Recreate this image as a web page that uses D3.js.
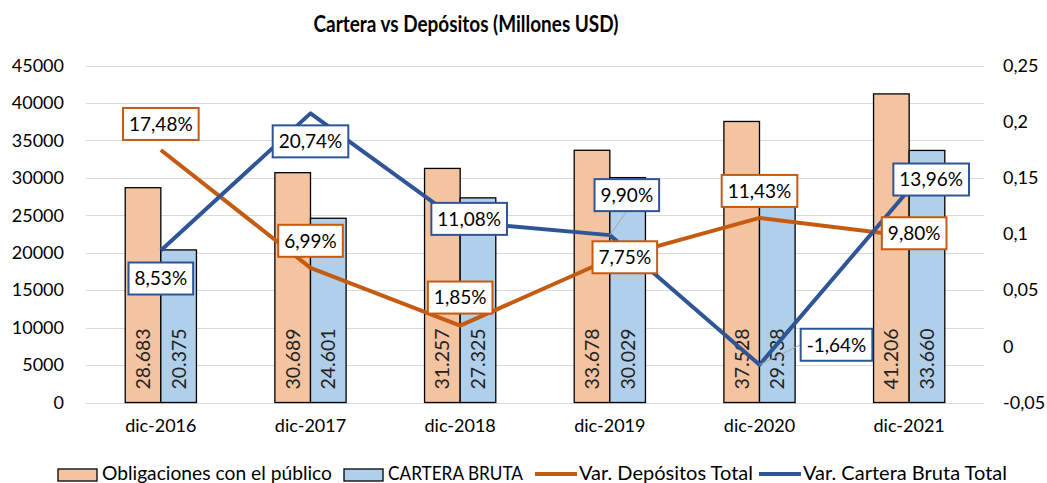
<!DOCTYPE html>
<html>
<head>
<meta charset="utf-8">
<script src="https://cdn.jsdelivr.net/npm/d3@7"></script>
<style>
  html, body { margin: 0; padding: 0; background: #fff; }
  svg { display: block; font-family: Lato, "Open Sans", sans-serif; }
</style>
</head>
<body>
<svg id="chart" width="1047" height="483"></svg>
<script>
// ---- data ----
const categories = ["dic-2016", "dic-2017", "dic-2018", "dic-2019", "dic-2020", "dic-2021"];
const obligaciones = [28683, 30689, 31257, 33678, 37528, 41206];
const carteraBruta = [20375, 24601, 27325, 30029, 29538, 33660];
const varDepositos = [0.1748, 0.0699, 0.0185, 0.0775, 0.1143, 0.0980];
const varCartera = [0.0853, 0.2074, 0.1108, 0.0990, -0.0164, 0.1396];
const leftTicks = [0, 5000, 10000, 15000, 20000, 25000, 30000, 35000, 40000, 45000];
const rightTicks = [-0.05, 0, 0.05, 0.1, 0.15, 0.2, 0.25];
const seriesNames = ["Obligaciones con el público", "CARTERA BRUTA", "Var. Depósitos Total", "Var. Cartera Bruta Total"];
const title = "Cartera vs Depósitos (Millones USD)";

// ---- layout / style (not data) ----
const C = {
  orangeFill: "#F4C3A0", blueFill: "#B0CFEA",
  orangeLine: "#C55A11", blueLine: "#2F5597",
  grid: "#D9D9D9", text: "#000"
};
// label offsets (dx, dy of box center relative to point) and leader flags
const depLabelPos = [[0,-26],[0,-27],[0,-28],[15,-2],[0,-27],[5,-3]];
const carLabelPos = [[0,28],[0,28],[9,-3],[17,-40,true],[77,-20,true],[22,-10]];

const svg = d3.select("#chart");
const plot = { left: 86, right: 984, top: 65.5, bottom: 402.5 };

const x = d3.scaleBand().domain(categories).range([plot.left, plot.right]).paddingInner(0).paddingOuter(0);
const yL = d3.scaleLinear().domain([0, 45000]).range([plot.bottom, plot.top]);
const yR = d3.scaleLinear().domain([-0.05, 0.25]).range([plot.bottom, plot.top]);
const barW = x.bandwidth() * 0.238;
const cx = c => x(c) + x.bandwidth() / 2;

// gridlines
svg.append("g").selectAll("line").data(leftTicks).join("line")
  .attr("x1", plot.left).attr("x2", plot.right)
  .attr("y1", d => Math.round(yL(d)) + 0.5).attr("y2", d => Math.round(yL(d)) + 0.5)
  .attr("stroke", C.grid).attr("stroke-width", 1);

// left axis
const axL = d3.axisLeft(yL).tickValues(leftTicks).tickSize(0).tickPadding(0).tickFormat(d3.format("d"));
svg.append("g").attr("transform", "translate(64,0)").call(axL)
  .call(g => g.select(".domain").remove())
  .selectAll("text").attr("font-size", 18).attr("fill", C.text).attr("font-family", "Lato");

// right axis
const fmtR = d => d3.format("~g")(d).replace(".", ",").replace("−", "-");
const axR = d3.axisRight(yR).tickValues(rightTicks).tickSize(0).tickPadding(0).tickFormat(fmtR);
svg.append("g").attr("transform", "translate(1003,0)").call(axR)
  .call(g => g.select(".domain").remove())
  .selectAll("text").attr("font-size", 18).attr("fill", C.text).attr("font-family", "Lato");

// bottom category axis
const axB = d3.axisBottom(x).tickSize(0).tickPadding(0);
svg.append("g").attr("transform", "translate(0,419)").call(axB)
  .call(g => g.select(".domain").remove())
  .selectAll("text").attr("font-size", 18).attr("fill", C.text).attr("font-family", "Lato");

// bars
const fmtK = d => d3.format(",")(d).replace(",", ".");
const barData = categories.map((c, i) => [
  { c, v: obligaciones[i], s: 0 }, { c, v: carteraBruta[i], s: 1 }
]).flat();
const bars = svg.append("g");
bars.selectAll("rect").data(barData).join("rect")
  .attr("x", d => cx(d.c) - (d.s === 0 ? barW : 0))
  .attr("y", d => yL(d.v)).attr("width", barW).attr("height", d => yL(0) - yL(d.v))
  .attr("fill", d => d.s === 0 ? C.orangeFill : C.blueFill)
  .attr("stroke", "#000").attr("stroke-width", 1.3);
bars.selectAll("text").data(barData).join("text")
  .attr("transform", d => `translate(${cx(d.c) + (d.s === 0 ? -barW / 2 : barW / 2) + 7},${yL(0) - 13}) rotate(-90)`)
  .attr("font-size", 19.5).attr("fill", "#222").attr("text-anchor", "start")
  .text(d => fmtK(d.v));

// lines
const line = d3.line().x(d => cx(d.c)).y(d => yR(d.v));
const depPts = categories.map((c, i) => ({ c, v: varDepositos[i] }));
const carPts = categories.map((c, i) => ({ c, v: varCartera[i] }));
svg.append("path").datum(depPts).attr("d", line).attr("fill", "none")
  .attr("stroke", C.orangeLine).attr("stroke-width", 4).attr("stroke-linejoin", "round");
svg.append("path").datum(carPts).attr("d", line).attr("fill", "none")
  .attr("stroke", C.blueLine).attr("stroke-width", 4).attr("stroke-linejoin", "round");

// data labels
const fmtPct = v => (v * 100).toFixed(2).replace(".", ",") + "%";
function drawLabels(pts, pos, color) {
  const g = svg.append("g");
  pts.forEach((p, i) => {
    const px = cx(p.c), py = yR(p.v);
    const lx = px + pos[i][0], ly = py + pos[i][1];
    const t = g.append("text").attr("x", lx).attr("y", ly).attr("dy", "0.36em")
      .attr("text-anchor", "middle").attr("font-size", 19).attr("fill", "#000").text(fmtPct(p.v));
    const w = t.node().getComputedTextLength() + 12, h = 32;
    if (pos[i][2]) {
      let ex, ey;
      if (Math.abs(pos[i][0]) > w / 2) { ex = lx - Math.sign(pos[i][0]) * w / 2; ey = ly; }
      else { ex = lx; ey = ly + (pos[i][1] < 0 ? h / 2 : -h / 2); }
      g.insert("line", "text").attr("x1", px).attr("y1", py).attr("x2", ex).attr("y2", ey)
        .attr("stroke", "#A6A6A6").attr("stroke-width", 1);
    }
    g.insert("rect", "text").attr("x", lx - w / 2).attr("y", ly - h / 2).attr("width", w).attr("height", h)
      .attr("fill", "#fff").attr("stroke", color).attr("stroke-width", 2);
  });
}
drawLabels(depPts, depLabelPos, C.orangeLine);
drawLabels(carPts, carLabelPos, C.blueLine);

// title
svg.append("text").attr("x", 466).attr("y", 32).attr("text-anchor", "middle")
  .attr("font-size", 22).attr("font-weight", "bold").attr("fill", "#000")
  .attr("textLength", 305).attr("lengthAdjust", "spacingAndGlyphs").text(title);

// legend
const lg = svg.append("g").attr("font-size", 19);
const legendItems = [
  { name: seriesNames[0], type: "rect", fill: C.orangeFill, x: 58, w: 230 },
  { name: seriesNames[1], type: "rect", fill: C.blueFill, x: 344, w: 135 },
  { name: seriesNames[2], type: "line", stroke: C.orangeLine, x: 535, w: 174 },
  { name: seriesNames[3], type: "line", stroke: C.blueLine, x: 759, w: 204 }
];
legendItems.forEach(it => {
  if (it.type === "rect") {
    lg.append("rect").attr("x", it.x).attr("y", 469).attr("width", 39).attr("height", 12)
      .attr("fill", it.fill).attr("stroke", "#000").attr("stroke-width", 1.3);
  } else {
    lg.append("line").attr("x1", it.x).attr("x2", it.x + 42).attr("y1", 474).attr("y2", 474)
      .attr("stroke", it.stroke).attr("stroke-width", 4);
  }
  lg.append("text").attr("x", it.x + 44).attr("y", 480).attr("fill", "#000")
    .attr("textLength", it.w).attr("lengthAdjust", "spacingAndGlyphs").text(it.name);
});
</script>
</body>
</html>
